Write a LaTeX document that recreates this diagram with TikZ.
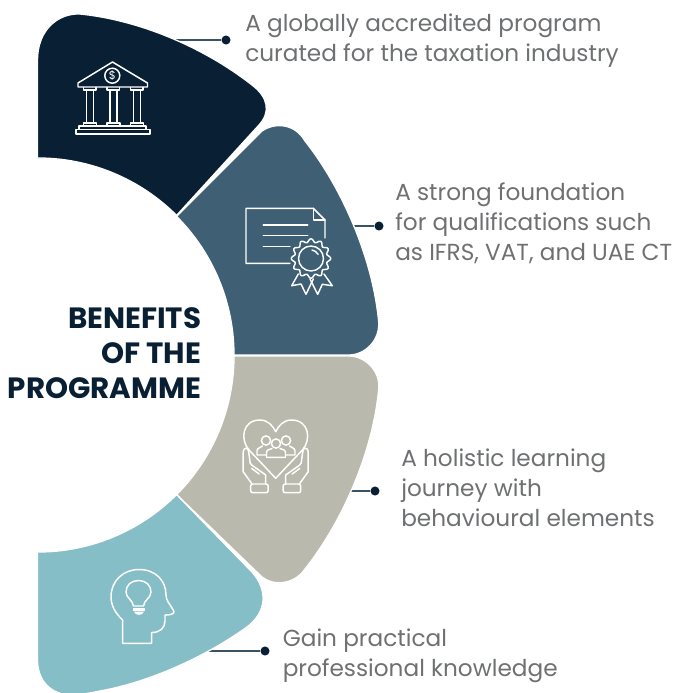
\documentclass[tikz,border=0pt]{standalone}
\usepackage{fontspec}
\setmainfont{Poppins}
\definecolor{navyc}{HTML}{091F33}
\definecolor{steelc}{HTML}{3E5F74}
\definecolor{greyc}{HTML}{B9B9AD}
\definecolor{tealc}{HTML}{85BEC6}
\definecolor{textc}{HTML}{6F7072}
\definecolor{linkc}{HTML}{3A5266}
\tikzset{
  petal/.style={draw=white,line width=1pt},
  icon/.style={draw=white,line width=1.1pt,line join=round,line cap=round,fill=none},
  dotnode/.style={circle,fill=navyc,inner sep=0pt,minimum size=6.8pt},
  link/.style={draw=linkc,line width=0.85pt},
  bodytext/.style={text=textc,align=left,inner sep=0pt,font=\fontsize{17.4}{22.5}\selectfont},
  titletext/.style={text=navyc,align=right,inner sep=0pt,font=\fontsize{22}{26.25}\selectfont\bfseries}
}
\begin{document}
\begin{tikzpicture}[x=0.75pt,y=-0.75pt]
\useasboundingbox (0,0) rectangle (676,693);
% connectors
\coordinate (c1) at (170,40); \node[dotnode] (d1) at (226,40) {};
\coordinate (c2) at (350,226); \node[dotnode] (d2) at (379,226) {};
\coordinate (c3) at (350,491); \node[dotnode] (d3) at (375,491) {};
\coordinate (c4) at (205,651); \node[dotnode] (d4) at (265,651) {};
\draw[link] (c1) -- (d1);
\draw[link] (c2) -- (d2);
\draw[link] (c3) -- (d3);
\draw[link] (c4) -- (d4);
% petals
\path[petal,fill=navyc] (176.6,215.4) arc[start angle=-45,end angle=-90,radius=196] -- (37.5,158) -- (37.5,60)
  .. controls (37.5,30) and (58,13) .. (80,14)
  .. controls (140,20) and (205,48) .. (252,85)
  .. controls (268,97) and (271,112) .. (259,125) -- cycle;
\path[petal,fill=steelc] (234,355) arc[start angle=0,end angle=-45,radius=196]
  -- (262,131) .. controls (273,123) and (294,122) .. (305,141)
  .. controls (340,185) and (372,255) .. (378.5,320)
  .. controls (381,340) and (365,355) .. (349,355) -- cycle;
\path[petal,fill=greyc] (234,356) -- (349,356)
  .. controls (365,356) and (381.5,371) .. (378.5,391)
  .. controls (372,456) and (340,525) .. (305,569)
  .. controls (294,585) and (273,586) .. (262,577)
  -- (176.6,494.6) arc[start angle=45,end angle=0,radius=196] -- cycle;
\path[petal,fill=tealc] (37.5,552) -- (38,552) arc[start angle=90,end angle=45,radius=196]
  -- (252,572) .. controls (268,590) and (267,612) .. (247,627)
  .. controls (205,657) and (150,682) .. (100,691)
  .. controls (90,693) and (80,695) .. (70,695)
  .. controls (50,694) and (37.5,680) .. (37.5,660) -- cycle;
% bank
\draw[icon] (78,83) -- (112.5,62) -- (147.5,83) -- (147.5,87) -- (78,87) -- cycle;
\draw[icon] (112.3,75.7) circle[radius=7.5];
\node[text=white,inner sep=0pt,font=\fontsize{8.5}{9}\selectfont] (dollar) at (112.3,75.7) {\$};
\foreach \a in {83.5,107,130.5}{
  \draw[icon] (\a,87.5) -- (\a,90) -- (\a+12.5,90) -- (\a+12.5,87.5);
  \draw[icon] (\a+3,90) -- (\a+3,123) (\a+10,90) -- (\a+10,123);
  \draw[icon] (\a,126) -- (\a,123) -- (\a+13,123) -- (\a+13,126);
}
\draw[icon] (79,129) -- (79,126) -- (146,126) -- (146,129);
\draw[icon] (76,129.5) rectangle (150,134);
% certificate
\draw[icon] (290,263.3) -- (246,263.3) -- (246,208.3) -- (313.3,208.3) -- (325,220) -- (325,238);
\draw[icon] (313.3,208.3) -- (313.3,220) -- (325,220);
\draw[icon] (263.3,225) -- (307.7,225) (263.3,235.7) -- (307.7,235.7) (263.3,246.7) -- (290,246.7);
\draw[icon] plot[domain=0:360,samples=145,smooth] ({311+(18+1.7*cos(12*\x))*cos(\x)},{258.5+(18+1.7*cos(12*\x))*sin(\x)}) -- cycle;
\draw[icon] (311,258.5) circle[radius=12.5];
\draw[icon] (312,250) arc[start angle=-80,end angle=-30,radius=8.8];
\draw[icon] (298.3,274) -- (291.7,285.7) -- (301,284) -- (306,294.3) -- (313.3,279);
\draw[icon] (324,274) -- (332.3,285.7) -- (322.3,284.3) -- (317.7,294.3) -- (310,279);
% heart and hands
\draw[icon] (275.7,478.3) -- (249,450) .. controls (240,440) and (242,420) .. (260,420)
  .. controls (268,420) and (273,426) .. (275.7,431.7)
  .. controls (278.4,426) and (283.4,420) .. (291.4,420)
  .. controls (309.4,420) and (311.4,440) .. (302.4,450) -- cycle;
\foreach \s in {1,-1}{
  \draw[icon] (275.7-32.5*\s,471.7) -- (275.7-32.5*\s,452)
    .. controls (275.7-32.5*\s,447) and (275.7-27*\s,447) .. (275.7-27*\s,452)
    -- (275.7-25.5*\s,463) -- (275.7-24*\s,465) -- (275.7-10*\s,475) -- (275.7-10*\s,484);
  \draw[icon] (275.7-32.5*\s,471.7) -- (275.7-24*\s,483.5);
  \draw[icon] (275.7-16.5*\s,474) -- (275.7-24*\s,468.5);
  \draw[icon,rounded corners=1.5pt] (275.7-25*\s,484) rectangle (275.7-7.5*\s,492.7);
}
\draw[icon] (276,443.5) circle[radius=4.6];
\draw[icon] (266.5,457.3) -- (266.5,452.5) .. controls (266.5,449) and (271,449.5) .. (272,448.5) (280,448.5) .. controls (281,449.5) and (285.5,449) .. (285.5,452.5) -- (285.5,457.3) -- (266.5,457.3);
\draw[icon] (266,440.5) circle[radius=4.6] (286,440.5) circle[radius=4.6];
\draw[icon] (266.5,455) -- (257,455) -- (257,451) .. controls (257,447.5) and (261,448) .. (262.5,446);
\draw[icon] (285.5,455) -- (295,455) -- (295,451) .. controls (295,447.5) and (291,448) .. (289.5,446);
% head
\draw[icon] (122.7,620) .. controls (115,613) and (111,605) .. (111,597)
  .. controls (111,581) and (123,569.5) .. (139,569.5)
  .. controls (156,569.5) and (166,581) .. (166,595)
  .. controls (166,601) and (170,604) .. (173.5,610.5)
  .. controls (175,613) and (173,615) .. (165,615)
  -- (165,621) .. controls (165,628) and (160,632.5) .. (151.7,632.5)
  -- (151.7,643.3) -- (122.7,643.3) -- cycle;
\draw[icon] (133.5,606) .. controls (133,600) and (126,598) .. (126,592)
  .. controls (126,585) and (131.5,580.5) .. (138.5,580.5)
  .. controls (145.5,580.5) and (151,585) .. (151,592)
  .. controls (151,598) and (144,600) .. (143.5,606) -- cycle;
\path[fill=white] (133,608) rectangle (145,610.5);
\path[fill=white] (134,611.5) -- (144,611.5) .. controls (143,616) and (135,616) .. (134,611.5) -- cycle;
% texts
\node[titletext,anchor=north east] (title) at (201.5,307) {BENEFITS\\OF THE\\PROGRAMME};
\node[bodytext,anchor=north west] (t1) at (245,14) {A globally accredited program\\curated for the taxation industry};
\node[bodytext,anchor=north west] (t2) at (395,182.5) {A strong foundation\\for qualifications such\\as IFRS, VAT, and UAE CT};
\node[bodytext,anchor=north west] (t3) at (401,449) {A holistic learning\\journey with\\behavioural elements};
\node[bodytext,anchor=north west] (t4) at (282.5,629) {Gain practical\\professional knowledge};
\end{tikzpicture}
\end{document}
